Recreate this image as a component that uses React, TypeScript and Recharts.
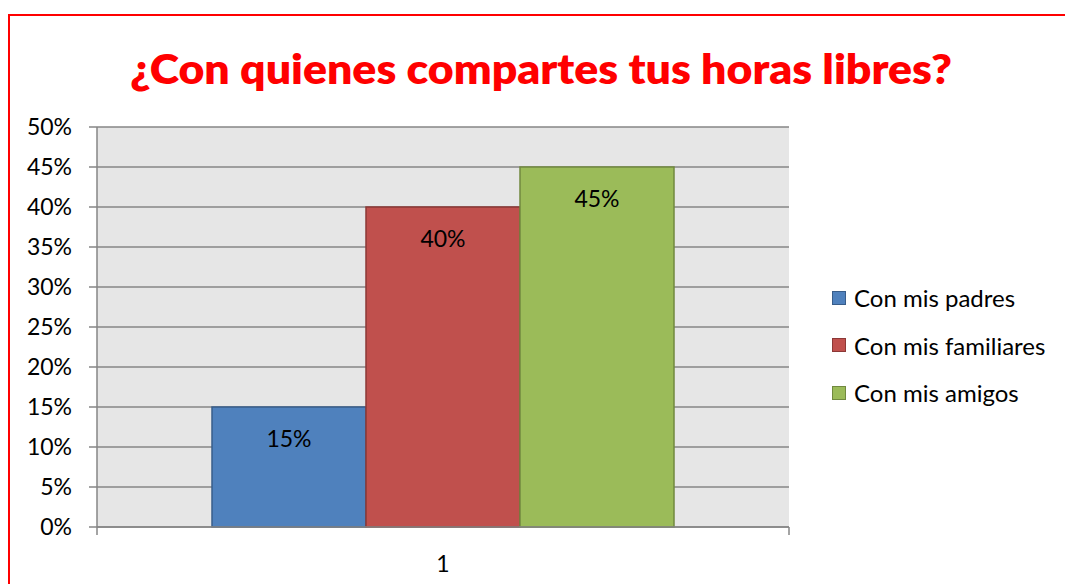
import React from 'react';
import * as R from 'recharts';
import { BarChart, Bar, XAxis, YAxis, CartesianGrid, LabelList } from 'recharts';

const title = '¿Con quienes compartes tus horas libres?';
const categories = ['1'];
const seriesNames = ['Con mis padres', 'Con mis familiares', 'Con mis amigos'];
const seriesKeys = ['padres', 'familiares', 'amigos'];
const padres = [0.15];
const familiares = [0.4];
const amigos = [0.45];
const yTicks = [0, 0.05, 0.1, 0.15, 0.2, 0.25, 0.3, 0.35, 0.4, 0.45, 0.5];
const fills = ['#4F81BD', '#C0504D', '#9BBB59'];
const strokes = ['#385D8A', '#8C3836', '#71893F'];

const data = categories.map((c, i) => ({ name: c, padres: padres[i], familiares: familiares[i], amigos: amigos[i] }));

const FONT = 'Lato, "Open Sans", sans-serif';
const pct = (v: any) => `${Math.round(Number(v) * 100)}%`;

const usePA: any = (R as any).usePlotArea || (() => null);

function EdgeTicks() {
  const pa = usePA();
  if (!pa) return null;
  const y = pa.y + pa.height;
  return (
    <g>
      <line x1={pa.x} x2={pa.x} y1={y} y2={y + 8} stroke="#868686" strokeWidth={1.5} />
      <line x1={pa.x + pa.width} x2={pa.x + pa.width} y1={y} y2={y + 8} stroke="#868686" strokeWidth={1.5} />
    </g>
  );
}

export default function App() {
  return (
    <div style={{ position: 'fixed', left: 0, top: 0, width: 1065, height: 584, background: '#fff', overflow: 'hidden', fontFamily: FONT }}>
      <div style={{ position: 'absolute', left: 8, top: 14, width: 1200, height: 700, borderTop: '2px solid #FF0000', borderLeft: '2px solid #FF0000' }} />
      <svg width={1065} height={100} style={{ position: 'absolute', left: 0, top: 0 }}>
        <text x={541} y={84} textAnchor="middle" fill="#FF0000" fontFamily={FONT} fontWeight={800} fontSize={42} textLength={822} lengthAdjust="spacingAndGlyphs">
          {title}
        </text>
      </svg>
      <div style={{ position: 'absolute', left: 0, top: 0 }}>
        <BarChart width={1065} height={584} data={data} margin={{ top: 127, right: 276, bottom: 0, left: 17 }} barCategoryGap={115} barGap={0}>
          <CartesianGrid vertical={false} horizontal={true} fill="#E6E6E6" stroke="#868686" strokeWidth={1.5} />
          <XAxis dataKey="name" height={57} tickSize={0} tickMargin={29} axisLine={{ stroke: '#868686', strokeWidth: 1.5 }} tickLine={false} tick={{ fill: '#000', fontSize: 23, fontFamily: FONT }} />
          <YAxis width={80} domain={[0, 0.5]} ticks={yTicks} tickFormatter={pct} tickSize={8} tickMargin={17} interval={0} axisLine={{ stroke: '#868686', strokeWidth: 1.5 }} tickLine={{ stroke: '#868686', strokeWidth: 1.5 }} tick={{ fill: '#000', fontSize: 23, fontFamily: FONT }} />
          {seriesKeys.map((k, i) => (
            <Bar key={k} dataKey={k} name={seriesNames[i]} fill={fills[i]} stroke={strokes[i]} strokeWidth={1.5} isAnimationActive={false}>
              <LabelList dataKey={k} position="insideTop" offset={24} formatter={pct} fill="#000" fontSize={23} fontFamily={FONT} />
            </Bar>
          ))}
          <EdgeTicks />
        </BarChart>
      </div>
      <div style={{ position: 'absolute', left: 832, top: 286 }}>
        {seriesNames.map((n, i) => (
          <div key={n} style={{ display: 'flex', alignItems: 'center', height: 47.5, marginTop: i === 0 ? -12 : 0 }}>
            <div style={{ width: 12, height: 12, background: fills[i], border: `1.5px solid ${strokes[i]}`, marginRight: 8 }} />
            <span style={{ fontSize: 24, color: '#000', whiteSpace: 'nowrap' }}>{n}</span>
          </div>
        ))}
      </div>
    </div>
  );
}
